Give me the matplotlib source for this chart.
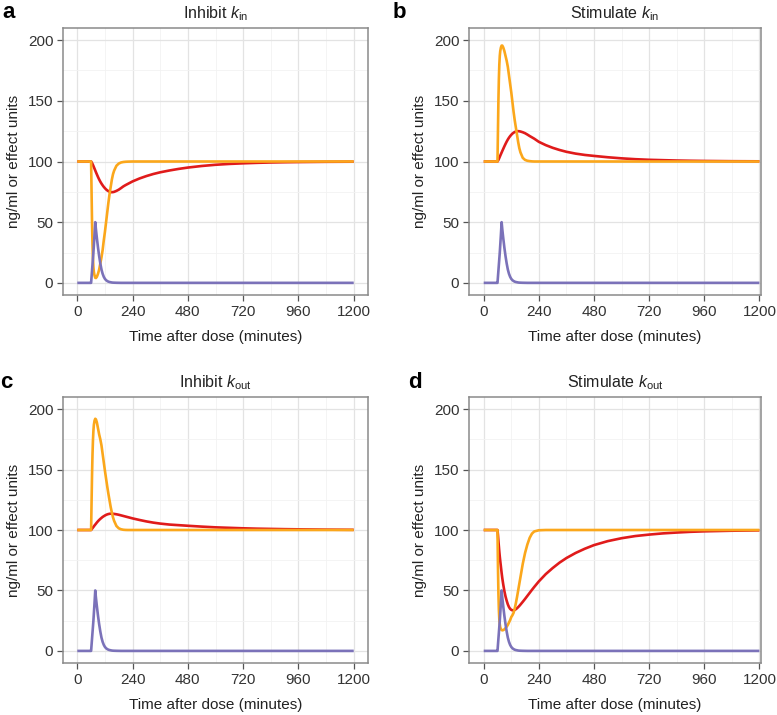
import matplotlib
matplotlib.use("Agg")
import matplotlib.pyplot as plt
from matplotlib.ticker import MultipleLocator

plt.rcParams['font.family'] = ['Liberation Sans', 'DejaVu Sans']
plt.rcParams['mathtext.fontset'] = 'custom'
plt.rcParams['mathtext.rm'] = 'Liberation Sans'
plt.rcParams['mathtext.it'] = 'Liberation Sans:italic'

# ---------------- data ----------------
time_min = [0, 59, 60, 62, 64, 66, 68, 70, 72, 75,
            78, 81, 85, 90, 95, 100, 105, 110, 115, 120,
            125, 130, 135, 140, 145, 150, 155, 160, 170, 180,
            190, 200, 210, 220, 240, 270, 300, 330, 360, 400,
            440, 480, 540, 600, 660, 720, 780, 840, 900, 960,
            1080, 1200]

# drug concentration (ng/ml) - same in every panel
conc = [0, 0, 0, 5, 10, 15, 20, 25, 31, 40,
        50, 44, 37, 29, 22, 16, 11, 7.5, 5, 3.3,
        2.2, 1.5, 1.0, 0.7, 0.5, 0.3, 0.2, 0.15, 0.08, 0.04,
        0, 0, 0, 0, 0, 0, 0, 0, 0, 0,
        0, 0, 0, 0, 0, 0, 0, 0, 0, 0,
        0, 0]

# panel a: inhibit k_in
direct_a = [100, 100, 100, 75, 50, 32, 20, 13, 9, 6,
            4.2, 4, 5, 7.5, 11, 16, 21, 27, 35, 42,
            50, 58, 66, 73, 79, 85, 89.5, 92.5, 96.5, 98.3,
            99.2, 99.6, 99.8, 99.9, 100, 100, 100, 100, 100, 100,
            100, 100, 100, 100, 100, 100, 100, 100, 100, 100,
            100, 100]
resp_a = [100, 100, 100, 99.5, 98.8, 98, 97.2, 96.3, 95.4, 94,
          92.6, 91.2, 89.4, 87.2, 85.2, 83.4, 81.8, 80.4, 79.1, 78,
          77, 76.2, 75.6, 75.1, 74.8, 74.7, 74.8, 75.0, 75.8, 76.8,
          78.1, 79.5, 80.6, 81.6, 83.6, 86, 88, 89.7, 91.1, 92.6,
          93.9, 95, 96.3, 97.3, 98, 98.5, 98.9, 99.2, 99.4, 99.55,
          99.75, 99.85]

# panel b: stimulate k_in
direct_b = [100, 100, 100, 125, 150, 168, 180, 187, 191, 194,
            195.5, 195.5, 194, 191, 187, 183, 178, 171, 164, 157,
            149, 141, 134, 128, 122, 116, 111, 107.5, 103, 101.3,
            100.6, 100.3, 100.1, 100, 100, 100, 100, 100, 100, 100,
            100, 100, 100, 100, 100, 100, 100, 100, 100, 100,
            100, 100]
resp_b = [100, 100, 100, 100.6, 101.3, 102.1, 103, 103.9, 104.8, 106.1,
          107.4, 108.7, 110.4, 112.5, 114.5, 116.4, 118.1, 119.6, 120.9, 122,
          123, 123.7, 124.3, 124.7, 124.9, 125, 124.9, 124.7, 124.1, 123.3,
          122.2, 121, 119.9, 118.8, 116.2, 113.5, 111.3, 109.5, 108, 106.5,
          105.4, 104.6, 103.5, 102.6, 101.9, 101.4, 101.1, 100.8, 100.6, 100.45,
          100.25, 100.15]

# panel c: inhibit k_out
direct_c = [100, 100, 100, 123, 145, 162, 174, 182, 187, 190.5,
            192, 191.5, 189, 184, 179, 175, 170, 163, 156, 149,
            142.5, 136, 130, 124.5, 119, 114.5, 110.5, 107.5, 103.3, 101.4,
            100.6, 100.2, 100.05, 100, 100, 100, 100, 100, 100, 100,
            100, 100, 100, 100, 100, 100, 100, 100, 100, 100,
            100, 100]
resp_c = [100, 100, 100, 100.5, 101, 101.5, 102, 102.5, 103, 103.8,
          104.5, 105.2, 106.2, 107.3, 108.3, 109.2, 110, 110.8, 111.4, 112,
          112.5, 112.9, 113.2, 113.4, 113.5, 113.5, 113.4, 113.3, 113, 112.6,
          112.1, 111.6, 111.1, 110.6, 109.6, 108.3, 107.1, 106.1, 105.3, 104.5,
          104, 103.5, 102.8, 102.2, 101.8, 101.4, 101.1, 100.9, 100.7, 100.55,
          100.3, 100.15]

# panel d: stimulate k_out
direct_d = [100, 100, 100, 70, 48, 34, 26, 22, 19.5, 18,
            17.3, 17, 17.2, 17.8, 18.8, 20, 21.5, 23.5, 25.5, 28,
            29.5, 31.5, 35, 39.5, 44.5, 50, 55.5, 61, 72, 81,
            88, 93.5, 97, 98.8, 99.8, 100, 100, 100, 100, 100,
            100, 100, 100, 100, 100, 100, 100, 100, 100, 100,
            100, 100]
resp_d = [100, 100, 100, 96, 91, 86.5, 82, 78, 74.5, 69.5,
          64.5, 60, 55, 49.5, 45, 41.5, 38.5, 36.3, 34.8, 34,
          33.6, 33.6, 33.9, 34.5, 35.3, 36.2, 37.2, 38.3, 40.6, 43,
          45.5, 48, 50.5, 52.9, 57.5, 63.5, 68.5, 73, 76.8, 81,
          84.5, 87.5, 90.8, 93.2, 95, 96.2, 97.2, 97.9, 98.5, 98.9,
          99.4, 99.7]

panel_letters = ["a", "b", "c", "d"]
panel_titles = [r"Inhibit $\mathit{k}_{\mathrm{in}}$",
                r"Stimulate $\mathit{k}_{\mathrm{in}}$",
                r"Inhibit $\mathit{k}_{\mathrm{out}}$",
                r"Stimulate $\mathit{k}_{\mathrm{out}}$"]
direct_series = [direct_a, direct_b, direct_c, direct_d]
response_series = [resp_a, resp_b, resp_c, resp_d]
x_ticks = [0, 240, 480, 720, 960, 1200]
y_ticks = [0, 50, 100, 150, 200]
x_label = "Time after dose (minutes)"
y_label = "ng/ml or effect units"

# ---------------- styling ----------------
W, H = 777, 715
fig = plt.figure(figsize=(W / 100, H / 100), dpi=100)

def rect(l, r, t, b):
    return [l / W, 1 - b / H, (r - l) / W, (b - t) / H]

boxes = [rect(63, 368, 28, 295), rect(469, 761, 28, 295),
         rect(63, 368, 397, 663), rect(469, 761, 397, 663)]
xlims = [(-62, 1262), (-64, 1207), (-62, 1262), (-64, 1207)]
letter_pos = [(2, 18), (393, 18), (0, 388), (408, 388)]

c_conc = "#7b72b9"
c_resp = "#e01b1b"
c_direct = "#fba71b"
border = "#8a8a8a"

for i in range(4):
    ax = fig.add_axes(boxes[i])
    ax.plot(time_min, response_series[i], color=c_resp, lw=1.9, zorder=3,
            solid_capstyle="butt")
    ax.plot(time_min, direct_series[i], color=c_direct, lw=1.9, zorder=4,
            solid_capstyle="butt")
    ax.plot(time_min, conc, color=c_conc, lw=1.9, zorder=5,
            solid_capstyle="butt")
    ax.set_xlim(*xlims[i])
    ax.set_ylim(-10, 210)
    ax.set_xticks(x_ticks)
    ax.set_yticks(y_ticks)
    ax.xaxis.set_minor_locator(MultipleLocator(120))
    ax.yaxis.set_minor_locator(MultipleLocator(25))
    ax.grid(True, which="major", color="#e3e3e3", lw=0.9, zorder=0)
    ax.grid(True, which="minor", color="#f2f2f2", lw=0.6, zorder=0)
    ax.set_axisbelow(True)
    for sp in ax.spines.values():
        sp.set_color(border)
        sp.set_linewidth(1.1)
    ax.tick_params(which="major", direction="out", length=4, width=0.9,
                   color="#555555", labelsize=11, labelcolor="#333333", pad=3)
    ax.tick_params(which="minor", length=0)
    ax.set_xlabel(x_label, fontsize=11, labelpad=8, color="#222222")
    ax.set_ylabel(y_label, fontsize=11, labelpad=5, color="#222222")
    ax.set_title(panel_titles[i], fontsize=11.5, pad=7, color="#222222")
    lx, ly = letter_pos[i]
    fig.text(lx / W, 1 - ly / H, panel_letters[i], fontsize=16,
             fontweight="bold", ha="left", va="baseline")

fig.savefig("out.png", dpi=100)
